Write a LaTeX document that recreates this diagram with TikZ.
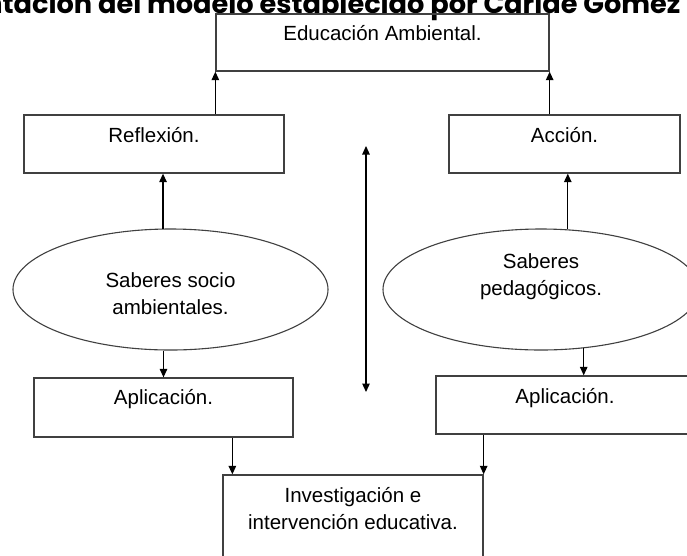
\documentclass[tikz,border=0pt]{standalone}
\usepackage{fontspec}
\setmainfont{Liberation Sans}
\newfontfamily\titlefont{Poppins}
\usetikzlibrary{arrows.meta,shapes.geometric,calc}
\begin{document}
\begin{tikzpicture}[x=1pt,y=-1pt,
  boxst/.style={draw=black!75, line width=1.3pt, rectangle, inner sep=0pt,
    font=\fontsize{20.5}{27}\selectfont, text height=15pt, text depth=18.4pt},
  ellst/.style={draw=black!75, line width=1.1pt, ellipse, inner sep=0pt, align=center,
    font=\fontsize{20.5}{27}\selectfont},
  arr/.style={line width=1.2pt, -{Triangle[length=8.5pt,width=7.5pt]}},
  darr/.style={line width=1.2pt, {Triangle[length=8.5pt,width=7.5pt]}-{Triangle[length=8.5pt,width=7.5pt]}},
]
\clip (0,0) rectangle (687,555);
\fill[white] (0,0) rectangle (687,555);

\node[anchor=base east, font=\titlefont\bfseries\fontsize{27.2}{27.2}\selectfont] (title) at (684,13)
  {Representación del modelo establecido por Caride Gómez};

\node[boxst, minimum width=333pt, minimum height=57pt, text depth=19.4pt] (edu) at (382.5,42.5) {Educación Ambiental.};
\node[boxst, minimum width=260pt, minimum height=58pt] (refl) at (154,144) {Reflexión.};
\node[boxst, minimum width=231pt, minimum height=58pt] (acc) at (564.5,144) {Acción.};

\node[ellst, minimum width=315pt, minimum height=121pt, text height=60pt, text depth=10.4pt] (ell1) at (170.5,289.5)
  {Saberes socio\\ambientales.};
\node[ellst, minimum width=316pt, minimum height=121pt, text height=30pt, text depth=18.4pt] (ell2) at (541,289.5)
  {Saberes\\pedagógicos.};

\node[boxst, minimum width=259pt, minimum height=59pt, text depth=21.4pt] (app1) at (163.5,407.5) {Aplicación.};
\node[boxst, minimum width=258pt, minimum height=58pt, text depth=17.6pt] (app2) at (565,405) {Aplicación.};

\node[boxst, minimum width=260pt, minimum height=110pt, align=center, text height=30pt, text depth=31.4pt] (inv) at (353,530)
  {Investigación e\\intervención educativa.};

\coordinate (dtop) at (366,146);
\coordinate (dbot) at (366,392);

\draw[arr] (refl.north -| edu.south west) -- (edu.south west);
\draw[arr] (acc.north -| edu.south east) -- (edu.south east);
\draw[arr] (ell1.97) -- (ell1.97 |- refl.south);
\draw[arr] (ell2.66.5) -- (ell2.66.5 |- acc.south);
\draw[arr] (app1.north |- ell1.south) -- (app1.north);
\draw[arr] (ell2.-54.9) -- (ell2.-54.9 |- app2.north);
\draw[arr] (app1.south -| {$(inv.north west)+(10,0)$}) -- ($(inv.north west)+(10,0)$);
\draw[arr] (app2.south -| inv.north east) -- (inv.north east);
\draw[darr] (dtop) -- (dbot);
\end{tikzpicture}
\end{document}
